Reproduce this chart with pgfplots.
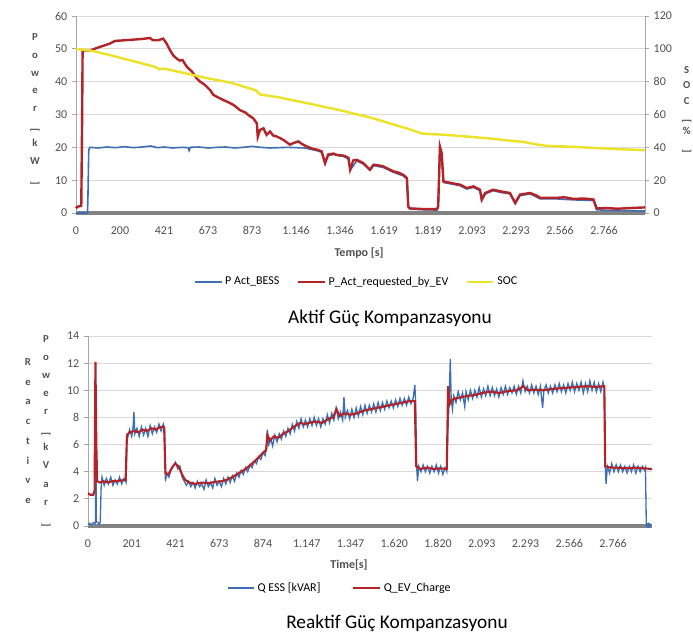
\documentclass[border=0pt]{standalone}
\usepackage{fontspec}
\setmainfont{Carlito}
\usepackage{graphicx}
\usepackage{pgfplots}
\pgfplotsset{compat=1.18}

\definecolor{bessblue}{RGB}{62,110,180}
\definecolor{evred}{RGB}{178,36,40}
\definecolor{socyellow}{RGB}{236,226,40}
\definecolor{gridgray}{RGB}{217,217,217}
\definecolor{axisgray}{RGB}{130,130,130}
\definecolor{ticktext}{RGB}{80,80,80}

\pgfplotsset{
  excel/.style={
    scale only axis, clip=false,
    axis x line*=bottom, axis y line*=left,
    x axis line style={draw=axisgray, line width=2.4pt, -},
    y axis line style={draw=axisgray!70, line width=0.6pt, -},
    xtick={0,...,12}, xtick style={draw=none},
    ytick style={draw=axisgray!70, line width=0.6pt},
    tick align=outside, major tick length=3pt,
    ymajorgrids, grid style={gridgray, line width=0.7pt},
    tick label style={font=\fontsize{9}{10}\selectfont, text=ticktext},
    xticklabel style={yshift=-3.5pt},
    /pgf/number format/assume math mode=true,
    legend style={draw=none, fill=none, font=\fontsize{9}{10}\selectfont,
      /tikz/every even column/.append style={column sep=11pt}},
    legend columns=-1,
    legend image code/.code={\draw[#1] (0pt,0pt) -- (20pt,0pt);},
  },
}

\newcommand{\rb}{\rotatebox{-90}{[}}
\newcommand{\rbb}{\rotatebox{-90}{]}}

\begin{document}
\begin{tikzpicture}
\useasboundingbox (0,0) rectangle (519.75pt,476.25pt);

% ---------------- Aktif ----------------
\begin{axis}[excel,
  at={(57pt,316.5pt)}, anchor=south west,
  width=426.75pt, height=147.75pt,
  xmin=0, xmax=12.93, ymin=0, ymax=60, ytick={0,10,...,60},
  xticklabels={0,200,421,673,873,1.146,1.346,1.619,1.819,2.093,2.293,2.566,2.766},
  legend style={at={(0.494,-0.35)}, anchor=center},
]
\addplot[bessblue, line width=1.2pt] coordinates {
(0,0)(0.26,0)(0.27,4)(0.29,19.3)(0.32,20)(0.5,19.8)(0.7,20.1)(0.9,19.9)(1.1,20.2)
(1.3,19.9)(1.5,20.1)(1.7,20.4)(1.85,19.9)(2.0,20.1)(2.2,19.8)(2.4,20.0)(2.55,19.9)
(2.57,19.0)(2.6,20.0)(2.8,20.1)(3.0,19.8)(3.2,20.0)(3.4,20.1)(3.6,19.8)(3.8,20.0)
(4.0,20.3)(4.2,20.0)(4.4,19.8)(4.6,19.9)(4.8,20.0)(5.0,19.9)(5.2,19.8)
(5.3,19.5)(5.47,19.0)(5.58,18.5)(5.66,15.0)(5.73,17.5)(5.85,17.8)(6.08,17.2)(6.19,16.5)
(6.23,13.0)(6.38,15.9)(6.53,14.9)(6.68,13.0)(6.76,14.4)(6.98,13.9)(7.21,12.4)(7.44,11.3)
(7.52,10.3)(7.55,1.8)(7.59,1.2)(7.89,1.0)(8.2,0.9)(8.23,1.5)(8.27,19.0)(8.31,17.5)
(8.35,9.3)(8.58,8.7)(8.73,8.3)(8.88,7.3)(9.03,7.8)(9.18,6.8)(9.22,3.8)(9.3,5.8)
(9.48,6.8)(9.64,6.3)(9.86,5.8)(9.98,2.8)(10.09,5.3)(10.32,5.8)(10.55,4.3)(10.92,4.3)
(11.3,4.0)(11.76,3.8)(11.83,1.0)(12.06,0.8)(12.59,0.7)(12.93,0.6)};
\addlegendentry{P Act\_BESS}
\addplot[evred, line width=1.8pt] coordinates {
(0,1.4)(0.03,1.9)(0.12,2.2)(0.14,30)(0.15,49.5)(0.32,49.5)(0.545,50.6)(0.77,51.6)
(0.886,52.4)(1.3,52.8)(1.5,53.0)(1.68,53.3)(1.75,52.6)(1.86,52.6)(1.98,53.1)(2.06,51.6)
(2.14,49.5)(2.21,48.0)(2.29,47.0)(2.36,46.4)(2.42,46.6)(2.52,44.5)(2.64,43.0)(2.74,41)
(2.82,40)(2.93,39)(3.05,37.4)(3.12,36)(3.2,35.4)(3.35,34.4)(3.45,33.8)(3.58,32.9)
(3.73,31.3)(3.85,30.6)(3.92,29.8)(4.03,28.8)(4.11,27.3)(4.13,23.2)(4.18,25.3)(4.26,25.8)
(4.33,23.8)(4.41,24.8)(4.48,23.6)(4.56,23.3)(4.71,22.3)(4.86,20.8)(4.94,21.3)(5.05,21.8)
(5.15,20.9)(5.24,20.3)(5.37,19.6)(5.47,19.3)(5.58,18.8)(5.66,15.2)(5.73,17.8)(5.85,18.1)
(5.95,17.6)(6.08,17.5)(6.19,16.8)(6.23,13.2)(6.3,16.0)(6.38,16.2)(6.53,15.2)(6.68,13.2)
(6.76,14.7)(6.88,14.5)(6.98,14.2)(7.1,13.4)(7.21,12.7)(7.33,12.3)(7.44,11.6)(7.52,10.6)
(7.55,2.0)(7.59,1.4)(7.89,1.2)(8.2,1.2)(8.23,2.0)(8.27,20.2)(8.31,18.2)(8.35,9.6)
(8.58,9.0)(8.73,8.6)(8.88,7.6)(9.03,8.1)(9.18,7.1)(9.22,4.1)(9.3,6.1)(9.48,7.1)
(9.64,6.6)(9.86,6.1)(9.98,3.1)(10.09,5.6)(10.32,6.1)(10.45,5.4)(10.55,4.6)(10.92,4.6)
(11.1,4.8)(11.3,4.3)(11.55,4.4)(11.76,4.1)(11.83,1.4)(12.06,1.5)(12.3,1.3)(12.59,1.5)
(12.93,1.7)};
\addlegendentry{P\_Act\_requested\_by\_EV}
\addlegendimage{socyellow, line width=1.8pt}
\addlegendentry{SOC}
\end{axis}

\begin{axis}[excel,
  at={(57pt,316.5pt)}, anchor=south west,
  width=426.75pt, height=147.75pt,
  xmin=0, xmax=12.93, ymin=0, ymax=120, ytick={0,20,...,120},
  axis x line=none, axis y line*=right, ymajorgrids=false,
]
\addplot[socyellow, line width=1.8pt] coordinates {
(0,100)(0.32,99)(0.8,96)(1.3,92.5)(1.8,89)(1.9,87.5)(2.0,88)(2.5,85)(3.0,82)
(3.5,79.5)(4.0,75.5)(4.1,74.5)(4.18,72.2)(4.6,70.5)(5.05,68)(5.5,65.5)(6.0,62.6)
(6.4,60)(6.76,57.6)(7.2,54)(7.52,51.5)(7.86,48.4)(8.5,47.4)(9.0,46.3)(9.41,45.4)
(9.8,44.2)(10.17,43.3)(10.45,41.8)(10.7,40.9)(11.3,40.3)(11.8,39.6)(12.3,38.9)(12.93,38.3)};
\end{axis}

\node[font=\bfseries\fontsize{9}{10}\selectfont, text=ticktext] at (269.25pt,286.5pt) {Tempo [s]};
\node[font=\fontsize{14.5}{16}\selectfont] at (292.5pt,237.75pt) {Aktif Güç Kompanzasyonu};
\node[font=\bfseries\fontsize{8}{13.2}\selectfont, text=ticktext, align=center, inner sep=0pt]
  at (26.25pt,394pt) {P\\o\\w\\e\\r\\\rb\\k\\W\\\rbb};
\node[font=\bfseries\fontsize{8}{11.4}\selectfont, text=ticktext, align=center, inner sep=0pt]
  at (515pt,393.75pt) {S\\O\\C\\\rb\\\%\\\rbb};

% ---------------- Reaktif ----------------
\begin{axis}[excel,
  at={(66pt,81.75pt)}, anchor=south west,
  width=423pt, height=142.5pt,
  xmin=0, xmax=12.89, ymin=0, ymax=14, ytick={0,2,...,14},
  xticklabels={0,201,421,673,874,1.147,1.347,1.620,1.820,2.093,2.293,2.566,2.766},
  legend style={at={(0.447,-0.326)}, anchor=center, /tikz/every even column/.append style={column sep=22pt}},
]
\addplot[bessblue, line width=1.0pt] coordinates {
(0,0.1)(0.04,0.2)(0.08,0.05)(0.12,0.25)(0.17,0.2)(0.18,8.8)(0.19,0.3)(0.22,0.3)(0.26,0.1)
(0.28,0.3)(0.30,2.8)(0.32,3.6)(0.37,3.0)(0.42,3.5)(0.47,3.1)(0.52,3.6)(0.57,3.0)(0.62,3.4)
(0.67,3.1)(0.72,3.6)(0.77,3.1)(0.82,3.5)(0.87,3.2)(0.89,6.5)(0.9,6.4)(0.95,7.1)(1.0,6.6)
(1.03,7.3)(1.05,8.4)(1.07,6.8)(1.12,7.2)(1.17,6.6)(1.22,7.3)(1.27,6.7)(1.32,7.2)(1.37,6.6)
(1.42,7.4)(1.47,6.8)(1.52,7.3)(1.57,6.9)(1.62,7.5)(1.67,7.0)(1.72,7.5)(1.75,7.1)
(1.77,3.3)(1.8,3.9)(1.85,3.6)(1.9,4.2)(1.95,4.4)(2.0,4.7)(2.05,4.2)(2.1,4.4)(2.15,3.6)
(2.2,3.3)(2.25,3.0)(2.3,3.3)(2.35,2.9)(2.4,3.2)(2.45,2.8)(2.5,3.3)(2.55,2.9)(2.6,3.1)
(2.65,2.7)(2.7,3.4)(2.75,2.9)(2.8,3.2)(2.85,2.8)(2.9,3.5)(2.95,3.0)(3.0,3.3)(3.05,2.9)
(3.1,3.5)(3.15,3.1)(3.2,3.6)(3.25,3.2)(3.3,3.7)(3.35,3.3)(3.4,3.9)(3.45,3.6)(3.5,4.1)
(3.55,3.8)(3.6,4.3)(3.65,4.0)(3.7,4.5)(3.75,4.3)(3.8,4.8)(3.85,4.6)(3.9,5.1)(3.95,4.9)
(4.0,5.4)(4.05,5.2)(4.08,5.8)(4.1,7.1)(4.13,6.0)(4.18,6.4)(4.22,5.9)(4.27,6.7)(4.32,6.2)
(4.37,6.8)(4.42,6.4)(4.47,7.0)(4.52,6.6)(4.57,7.2)(4.62,6.8)(4.67,7.5)(4.72,7.0)(4.77,7.7)
(4.82,7.2)(4.87,7.9)(4.92,7.3)(4.97,7.8)(5.02,7.3)(5.07,7.9)(5.12,7.4)(5.17,8.0)(5.22,7.4)
(5.27,7.9)(5.32,7.3)(5.37,7.9)(5.42,7.5)(5.47,8.2)(5.52,7.6)(5.57,8.3)(5.62,7.8)(5.67,8.7)
(5.72,7.9)(5.77,8.4)(5.82,7.8)(5.85,9.5)(5.88,8.0)(5.93,8.5)(5.98,7.9)(6.03,8.6)(6.08,8.0)
(6.13,8.7)(6.18,8.1)(6.23,8.8)(6.28,8.2)(6.33,8.9)(6.38,8.3)(6.43,8.9)(6.48,8.4)(6.53,9.0)
(6.58,8.4)(6.63,9.1)(6.68,8.5)(6.73,9.1)(6.78,8.6)(6.83,9.2)(6.88,8.7)(6.93,9.2)(6.98,8.7)
(7.03,9.3)(7.08,8.8)(7.13,9.4)(7.18,8.9)(7.23,9.4)(7.28,8.9)(7.33,9.5)(7.38,9.0)(7.43,9.4)
(7.47,10.4)(7.49,9.0)(7.51,4.5)(7.53,3.3)(7.56,4.4)(7.61,4.0)(7.66,4.5)(7.71,4.0)(7.76,4.4)
(7.81,3.9)(7.86,4.4)(7.91,4.0)(7.96,4.5)(8.01,3.9)(8.06,4.4)(8.11,3.8)(8.16,4.3)(8.2,4.0)
(8.22,6.5)(8.25,9.0)(8.28,12.3)(8.3,9.4)(8.33,8.6)(8.36,9.6)(8.41,9.1)(8.46,9.9)(8.51,9.3)
(8.56,9.8)(8.61,8.8)(8.64,9.9)(8.69,9.3)(8.74,10.0)(8.79,9.4)(8.84,10.0)(8.89,9.5)(8.94,10.2)
(8.99,9.5)(9.04,10.1)(9.09,9.6)(9.14,10.3)(9.19,9.6)(9.24,10.2)(9.29,9.6)(9.34,10.1)(9.39,9.5)
(9.44,10.2)(9.49,9.7)(9.54,10.3)(9.59,9.7)(9.64,10.2)(9.69,9.8)(9.74,10.3)(9.79,9.7)(9.84,10.3)
(9.89,9.8)(9.94,10.7)(9.99,9.9)(10.04,10.3)(10.09,9.8)(10.14,10.4)(10.19,9.8)(10.24,10.3)
(10.29,9.7)(10.34,10.3)(10.39,8.7)(10.42,10.0)(10.47,10.4)(10.52,9.8)(10.57,10.3)(10.62,9.8)
(10.67,10.4)(10.72,9.9)(10.77,10.5)(10.82,9.9)(10.87,10.4)(10.92,9.8)(10.97,10.5)(11.02,10.0)
(11.07,10.6)(11.12,9.9)(11.17,10.5)(11.22,10.0)(11.27,10.6)(11.32,9.8)(11.37,10.5)(11.42,9.9)
(11.47,10.7)(11.52,10.0)(11.57,10.6)(11.62,9.9)(11.67,10.5)(11.72,9.9)(11.77,10.6)(11.8,10.1)
(11.82,4.6)(11.84,3.1)(11.87,4.4)(11.92,3.9)(11.97,4.6)(12.02,4.0)(12.07,4.5)(12.12,4.0)
(12.17,4.5)(12.22,4.0)(12.27,4.4)(12.32,3.9)(12.37,4.4)(12.42,4.0)(12.47,4.5)(12.52,3.9)
(12.57,4.4)(12.62,4.0)(12.67,4.4)(12.72,4.1)(12.74,4.3)(12.76,0.1)(12.81,0.05)};
\addlegendentry{Q ESS [kVAR]}
\addplot[evred, line width=1.6pt] coordinates {
(0,2.4)(0.06,2.3)(0.12,2.3)(0.15,2.6)(0.17,12.1)(0.19,6)(0.21,3.3)(0.27,3.2)(0.35,3.3)
(0.45,3.2)(0.55,3.3)(0.65,3.3)(0.75,3.35)(0.86,3.4)(0.89,6.7)(0.95,6.9)(1.05,7.0)(1.15,6.9)
(1.25,7.1)(1.35,7.0)(1.45,7.2)(1.55,7.1)(1.65,7.3)(1.74,7.3)(1.77,3.9)(1.84,3.8)(1.92,4.3)
(1.99,4.6)(2.07,4.4)(2.15,3.8)(2.22,3.4)(2.32,3.2)(2.45,3.1)(2.6,3.2)(2.75,3.15)(2.9,3.25)
(3.05,3.3)(3.17,3.4)(3.3,3.6)(3.45,3.9)(3.6,4.2)(3.75,4.6)(3.88,5.0)(4.0,5.4)(4.07,5.6)
(4.1,6.7)(4.16,6.3)(4.25,6.6)(4.35,6.5)(4.46,6.8)(4.58,7.0)(4.7,7.3)(4.85,7.6)(4.95,7.5)
(5.05,7.6)(5.2,7.7)(5.35,7.6)(5.5,7.9)(5.6,8.0)(5.68,8.6)(5.75,8.1)(5.85,8.3)(6.0,8.2)
(6.15,8.3)(6.3,8.5)(6.45,8.6)(6.6,8.7)(6.75,8.8)(6.9,8.9)(7.05,9.0)(7.2,9.1)(7.35,9.2)
(7.47,9.2)(7.5,4.4)(7.6,4.2)(7.75,4.3)(7.9,4.2)(8.05,4.25)(8.2,4.2)(8.23,10.3)(8.27,9.0)
(8.32,9.3)(8.4,9.4)(8.55,9.5)(8.7,9.6)(8.85,9.65)(9.0,9.8)(9.2,9.9)(9.4,9.8)(9.6,9.95)
(9.8,10.0)(9.95,10.3)(10.05,10.0)(10.2,10.05)(10.4,10.0)(10.6,10.1)(10.8,10.15)(11.0,10.2)
(11.2,10.25)(11.4,10.3)(11.6,10.25)(11.8,10.3)(11.82,4.4)(11.95,4.3)(12.1,4.3)(12.3,4.25)
(12.5,4.3)(12.7,4.25)(12.89,4.2)};
\addlegendentry{Q\_EV\_Charge}
\addplot[bessblue, only marks, mark=*, mark size=1.8pt, forget plot] coordinates {(12.81,0.05)};
\end{axis}

\node[font=\bfseries\fontsize{9}{10}\selectfont, text=ticktext] at (261.75pt,52.5pt) {Time[s]};
\node[font=\fontsize{14.5}{16}\selectfont] at (297.75pt,9pt) {Reaktif Güç Kompanzasyonu};
\node[font=\bfseries\fontsize{8}{14.8}\selectfont, text=ticktext, align=center, inner sep=0pt]
  at (21pt,153pt) {R\\e\\a\\c\\t\\i\\v\\e};
\node[font=\bfseries\fontsize{8}{13.6}\selectfont, text=ticktext, align=center, inner sep=0pt]
  at (34.5pt,153pt) {P\\o\\w\\e\\r\\\rb\\k\\V\\a\\r\\\rbb};
\end{tikzpicture}
\end{document}
